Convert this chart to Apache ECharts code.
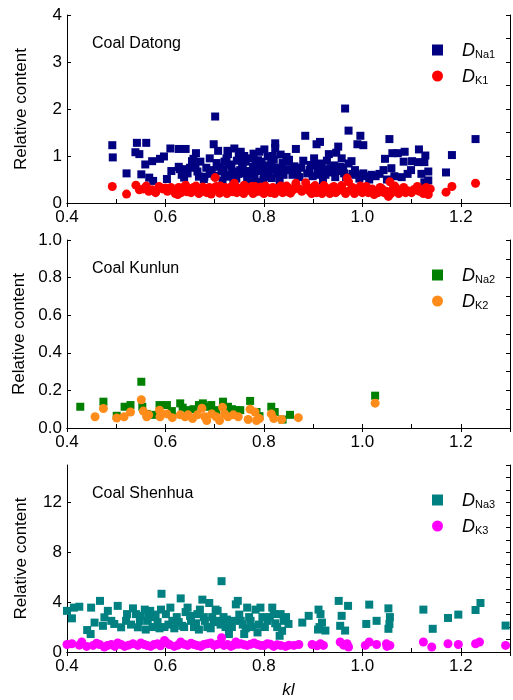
<!DOCTYPE html>
<html>
<head>
<meta charset="utf-8">
<script src="https://cdn.jsdelivr.net/npm/echarts@6/dist/echarts.min.js"></script>
<style>
  html, body { margin: 0; padding: 0; background: #fff; }
  #chart { width: 513px; height: 700px; }
</style>
</head>
<body>
<div id="chart"></div>
<script>
// panel 1: Coal Datong  [kl, relative content]
const na1 = [
  [0.492,1.23],[0.493,0.97],[0.521,0.63],[0.542,1.28],[0.561,1.28],[0.539,1.08],[0.547,1.04],[0.559,0.82],
  [0.551,0.61],[0.567,0.54],[0.575,0.47],[0.573,0.89],[0.589,0.94],[0.597,0.99],[0.603,0.51],[0.610,1.16],
  [0.627,1.15],[0.641,1.15],[0.701,1.84],[0.698,1.25],[0.627,0.77],[0.629,0.72],[0.639,0.72],[0.638,0.54],
  [0.645,0.63],[0.654,0.89],[0.657,0.94],[0.662,1.06],[0.671,0.88],[0.661,0.77],[0.665,0.67],[0.668,0.56],
  [0.679,0.56],[0.678,0.51],[0.694,0.70],[0.707,1.11],[0.709,0.77],[0.714,0.67],[0.721,0.60],[0.726,1.11],
  [0.727,1.04],[0.740,1.16],[0.734,0.77],[0.737,0.67],[0.731,0.56],[0.753,1.09],[0.749,1.03],[0.756,0.84],
  [0.752,0.70],[0.761,0.63],[0.773,0.95],[0.778,0.77],[0.788,0.91],[0.791,1.09],[0.801,1.14],[0.796,0.70],
  [0.808,0.99],[0.815,0.84],[0.781,0.60],[0.808,0.56],[0.716,0.48],[0.744,0.52],[0.766,0.50],[0.786,0.45],
  [0.800,0.62],[0.770,0.68],[0.745,0.90],[0.720,0.88],[0.690,0.62],[0.760,1.00],[0.783,0.82],[0.795,0.88],
  [0.812,0.72],[0.823,1.27],[0.823,1.17],[0.818,1.00],[0.834,1.03],[0.838,0.85],[0.848,0.88],[0.851,0.92],
  [0.865,1.15],[0.844,0.70],[0.858,0.60],[0.828,0.62],[0.816,0.53],[0.872,0.55],[0.830,0.75],[0.862,0.78],
  [0.884,1.43],[0.907,1.25],[0.914,1.30],[0.902,0.95],[0.895,0.81],[0.888,0.63],[0.899,0.57],[0.910,0.70],
  [0.917,0.84],[0.925,0.60],[0.932,1.04],[0.936,0.74],[0.947,1.07],[0.951,1.20],[0.955,0.77],[0.963,0.63],
  [0.965,2.01],[0.972,1.54],[0.996,1.43],[0.990,1.25],[1.002,1.23],[0.972,0.84],[0.978,0.89],[0.985,0.70],
  [0.987,0.60],[1.002,0.63],[1.008,0.57],[1.019,0.60],[1.027,0.57],[1.046,0.94],[1.043,0.70],[1.055,1.36],
  [1.059,0.74],[1.061,1.06],[1.072,1.06],[1.086,1.09],[1.084,0.88],[1.065,0.57],[1.099,0.70],[1.101,0.89],
  [1.115,1.14],[1.113,0.87],[1.126,0.87],[1.128,1.01],[1.134,0.67],[1.134,0.48],[1.126,0.44],[1.170,0.65],
  [1.182,1.02],[1.230,1.36],[0.880,0.90],[0.920,0.48],[0.945,0.55],[0.958,0.95],[0.940,0.65],
  [0.683,0.75],[0.690,0.95],[0.700,0.58],[0.704,0.85],[0.718,0.72],[0.724,0.95],[0.730,0.82],[0.738,0.47],
  [0.748,0.62],[0.757,0.74],[0.763,0.88],[0.769,0.58],[0.775,0.45],[0.779,1.05],[0.784,0.68],[0.792,0.78],
  [0.799,0.50],[0.805,0.80],[0.810,0.65],[0.820,0.92],[0.826,0.70],[0.832,0.48],[0.840,0.60],[0.846,0.98],
  [0.855,0.72],[0.868,0.66],[0.876,0.75],[0.893,0.70],[0.905,0.80],[0.912,0.60],[0.922,0.72],[0.928,0.90],
  [0.943,0.80],[0.950,0.68],[0.961,0.75],[0.967,0.55],[0.980,0.62],[0.994,0.52],[1.014,0.50],[1.035,0.62],
  [1.050,0.50],[1.080,0.55],[1.092,0.62],[1.120,0.62],[0.650,0.75],[0.633,0.60],[0.612,0.68]
];
const k1 = [
  [0.492,0.35],[0.521,0.19],[0.540,0.38],[0.547,0.28],[0.561,0.36],[0.566,0.25],[0.573,0.28],[0.587,0.35],
  [0.594,0.30],[0.604,0.25],[0.611,0.33],[0.627,0.33],[0.632,0.22],[0.641,0.38],[0.647,0.30],[0.657,0.33],
  [0.665,0.28],[0.673,0.31],[0.679,0.25],[0.689,0.33],[0.701,0.54],[0.707,0.30],[0.714,0.25],[0.721,0.33],
  [0.728,0.26],[0.740,0.42],[0.749,0.31],[0.756,0.25],[0.765,0.33],[0.773,0.28],[0.782,0.35],[0.791,0.25],
  [0.798,0.31],[0.808,0.26],[0.818,0.33],[0.620,0.20],[0.636,0.27],[0.652,0.22],[0.668,0.20],[0.684,0.22],
  [0.696,0.28],[0.712,0.36],[0.733,0.34],[0.745,0.22],[0.760,0.38],[0.778,0.20],[0.787,0.30],[0.803,0.36],
  [0.813,0.22],[0.826,0.28],[0.834,0.36],[0.842,0.24],[0.850,0.32],[0.858,0.27],[0.865,0.42],[0.872,0.30],
  [0.885,0.43],[0.892,0.26],[0.900,0.33],[0.907,0.22],[0.915,0.30],[0.922,0.37],[0.930,0.25],[0.938,0.32],
  [0.946,0.22],[0.955,0.30],[0.962,0.26],[0.969,0.53],[0.972,0.45],[0.980,0.33],[0.988,0.25],[0.996,0.36],
  [1.004,0.28],[1.012,0.22],[1.020,0.30],[1.028,0.25],[1.036,0.33],[1.044,0.22],[1.053,0.14],[1.056,0.45],
  [1.062,0.30],[1.070,0.25],[1.078,0.28],[1.084,0.33],[1.092,0.26],[1.100,0.22],[1.108,0.30],[1.116,0.25],
  [1.124,0.20],[1.130,0.33],[1.134,0.18],[1.170,0.23],[1.182,0.35],[1.230,0.42],
  [0.600,0.32],[0.615,0.27],[0.625,0.18],[0.638,0.34],[0.644,0.24],[0.655,0.28],[0.662,0.36],[0.670,0.24],
  [0.676,0.34],[0.687,0.27],[0.693,0.19],[0.703,0.35],[0.710,0.21],[0.718,0.29],[0.725,0.20],[0.731,0.30],
  [0.737,0.24],[0.742,0.35],[0.752,0.28],[0.759,0.20],[0.768,0.27],[0.775,0.35],[0.783,0.24],[0.794,0.34],
  [0.800,0.20],[0.806,0.31],[0.816,0.26],[0.822,0.20],[0.830,0.32],[0.838,0.22],[0.846,0.36],[0.854,0.21],
  [0.862,0.30],[0.877,0.25],[0.888,0.33],[0.897,0.20],[0.904,0.37],[0.911,0.27],[0.918,0.20],[0.926,0.32],
  [0.934,0.20],[0.942,0.35],[0.950,0.26],[0.958,0.37],[0.966,0.20],[0.976,0.28],[0.984,0.20],[0.992,0.30],
  [1.000,0.22],[1.008,0.35],[1.016,0.27],[1.024,0.18],[1.032,0.22],[1.040,0.30],[1.048,0.25],[1.058,0.20],
  [1.066,0.36],[1.074,0.20],[1.088,0.22],[1.104,0.28],[1.112,0.35],[1.120,0.28],[1.128,0.24],[1.138,0.30],
  [0.580,0.22],[0.555,0.30]
];

// panel 2: Coal Kunlun
const na2 = [
  [0.427,0.113],[0.474,0.140],[0.501,0.065],[0.517,0.113],[0.529,0.122],[0.553,0.113],[0.551,0.246],[0.562,0.075],
  [0.578,0.070],[0.588,0.122],[0.603,0.122],[0.613,0.090],[0.630,0.131],[0.635,0.108],[0.646,0.095],[0.657,0.100],
  [0.668,0.122],[0.676,0.131],[0.686,0.113],[0.693,0.122],[0.703,0.095],[0.717,0.140],[0.727,0.113],[0.735,0.100],
  [0.744,0.095],[0.752,0.095],[0.772,0.144],[0.785,0.085],[0.791,0.063],[0.815,0.113],[0.822,0.085],[0.838,0.045],
  [0.853,0.070],[1.026,0.172]
];
const k2 = [
  [0.457,0.060],[0.474,0.104],[0.501,0.053],[0.516,0.060],[0.529,0.085],[0.551,0.150],[0.555,0.090],[0.562,0.060],
  [0.566,0.070],[0.588,0.095],[0.589,0.060],[0.603,0.075],[0.614,0.055],[0.630,0.070],[0.640,0.060],[0.646,0.070],
  [0.655,0.050],[0.665,0.070],[0.674,0.105],[0.680,0.060],[0.684,0.040],[0.694,0.075],[0.703,0.060],[0.710,0.040],
  [0.716,0.110],[0.720,0.075],[0.727,0.060],[0.738,0.070],[0.748,0.060],[0.768,0.045],[0.772,0.100],[0.782,0.085],
  [0.785,0.040],[0.791,0.050],[0.815,0.075],[0.820,0.050],[0.836,0.045],[0.870,0.055],[1.026,0.132]
];

// panel 3: Coal Shenhua
const na3 = [
  [0.400,3.30],[0.410,2.70],[0.414,3.56],[0.425,3.63],[0.441,1.76],[0.448,1.44],[0.449,3.56],[0.456,2.36],
  [0.467,4.10],[0.473,2.10],[0.476,2.78],[0.483,3.30],[0.490,2.50],[0.496,2.25],[0.503,3.70],[0.510,1.98],
  [0.520,2.50],[0.522,3.04],[0.534,3.50],[0.540,3.04],[0.544,1.98],[0.550,2.90],[0.558,3.40],[0.564,2.50],
  [0.569,3.30],[0.574,2.00],[0.577,2.80],[0.584,2.40],[0.591,3.40],[0.592,4.67],[0.598,2.00],[0.601,3.04],
  [0.610,3.56],[0.614,2.50],[0.623,2.80],[0.631,4.30],[0.634,2.10],[0.641,3.20],[0.645,3.56],[0.652,2.50],
  [0.658,2.00],[0.665,3.04],[0.670,3.40],[0.675,4.20],[0.680,2.50],[0.685,2.00],[0.689,3.93],[0.695,2.80],
  [0.702,3.40],[0.706,3.30],[0.709,2.50],[0.714,5.68],[0.718,2.80],[0.722,2.00],[0.729,1.44],[0.739,2.50],
  [0.743,3.82],[0.747,4.10],[0.753,2.50],[0.760,1.44],[0.766,3.56],[0.770,2.80],[0.776,2.00],[0.783,3.40],
  [0.787,1.57],[0.793,3.56],[0.797,2.80],[0.807,2.50],[0.817,3.56],[0.820,3.04],[0.827,2.00],[0.832,1.30],
  [0.834,3.04],[0.840,2.50],[0.850,2.25],[0.878,2.36],[0.891,2.90],[0.911,3.40],[0.915,3.04],[0.913,2.00],
  [0.918,2.36],[0.925,1.72],[0.952,4.10],[0.958,2.90],[0.955,2.10],[0.965,1.72],[0.971,3.70],[1.008,2.25],
  [1.014,3.80],[1.029,2.50],[1.053,3.50],[1.056,2.80],[1.053,1.86],[1.055,2.25],[1.124,3.40],[1.143,1.86],
  [1.174,2.73],[1.195,3.00],[1.230,3.37],[1.240,3.93],[1.291,2.12],
  [0.530,2.20],[0.548,2.50],[0.560,1.80],[0.566,2.90],[0.580,3.00],[0.588,1.90],[0.606,2.20],[0.618,1.90],
  [0.627,2.40],[0.638,2.00],[0.650,2.90],[0.662,2.30],[0.668,1.80],[0.678,2.80],[0.692,1.90],[0.698,2.40],
  [0.712,2.20],[0.725,2.60],[0.735,2.00],[0.750,3.00],[0.757,2.20],[0.763,1.90],[0.773,2.50],[0.790,2.20],
  [0.802,2.00],[0.812,2.80],[0.823,2.30],[0.837,1.70],[0.845,2.80],[0.910,1.80]
];
const k3 = [
  [0.400,0.60],[0.410,0.66],[0.430,0.80],[0.440,0.45],[0.453,0.53],[0.466,0.60],[0.476,0.40],[0.490,0.60],
  [0.503,0.72],[0.517,0.45],[0.534,0.66],[0.544,0.53],[0.557,0.60],[0.570,0.45],[0.584,0.66],[0.598,0.93],
  [0.608,0.60],[0.618,0.45],[0.631,0.80],[0.645,0.53],[0.658,0.60],[0.672,0.45],[0.685,0.66],[0.699,0.53],
  [0.714,1.14],[0.719,0.53],[0.733,0.45],[0.743,0.80],[0.753,0.66],[0.766,0.53],[0.780,0.72],[0.793,0.53],
  [0.807,0.66],[0.820,0.45],[0.834,0.53],[0.844,0.45],[0.861,0.53],[0.871,0.60],[0.898,0.60],[0.915,0.66],
  [0.921,0.53],[0.955,0.80],[0.969,0.66],[0.972,0.40],[1.006,0.53],[1.014,0.80],[1.029,0.60],[1.049,0.66],
  [1.056,0.53],[1.124,0.80],[1.141,0.40],[1.174,0.66],[1.195,0.60],[1.230,0.66],[1.238,0.80],[1.291,0.53],
  [0.425,0.55],[0.460,0.70],[0.482,0.52],[0.497,0.45],[0.510,0.60],[0.525,0.55],[0.550,0.72],[0.563,0.52],
  [0.577,0.60],[0.590,0.50],[0.603,0.72],[0.625,0.55],[0.638,0.62],[0.652,0.70],[0.665,0.52],[0.678,0.60],
  [0.692,0.72],[0.706,0.62],[0.726,0.60],[0.738,0.55],[0.748,0.62],[0.760,0.58],[0.773,0.62],[0.787,0.60],
  [0.800,0.52],[0.813,0.62],[0.827,0.58],[0.851,0.55],[0.908,0.50],[0.962,0.55],[1.050,0.45]
];

const panelNames = ['Coal Datong', 'Coal Kunlun', 'Coal Shenhua'];
const squareNames = ['Na1', 'Na2', 'Na3'];
const circleNames = ['K1', 'K2', 'K3'];
const squareColors = ['#000080', '#008000', '#008080'];
const circleColors = ['#ff0000', '#ff8c1a', '#ff00ff'];
const yMax = [4, 1.0, 15];
const yStep = [1, 0.2, 4];
const yMinorStep = [0.5, 0.1, 1];
const yDigits = [0, 1, 0];

const tops = [15, 240, 465];
const font = 'Arial, "Liberation Sans", sans-serif';

const grids = [];
const xAxes = [];
const yAxes = [];
const legends = [];
const series = [];
const texts = [];
const sqData = [na1, na2, na3];
const ciData = [k1, k2, k3];

for (let i = 0; i < 3; i++) {
  grids.push({ left: 67, right: 1, top: tops[i], height: 188 });
  // bottom axis, ticks every 0.1, labels every 0.2
  xAxes.push({
    gridIndex: i, type: 'value', position: 'bottom', min: 0.4, max: 1.3, interval: 0.1,
    axisLine: { show: true, lineStyle: { color: '#000', width: 1 } },
    axisTick: { show: true, inside: true, length: 4, lineStyle: { color: '#000' } },
    splitLine: { show: false },
    axisLabel: {
      color: '#000', fontSize: 17, fontFamily: font, margin: 6,
      formatter: v => (Math.round(v * 10) % 2 === 0 && v < 1.25) ? v.toFixed(1) : ''
    },
    name: i === 2 ? 'kl' : '', nameLocation: 'middle', nameGap: 30,
    nameTextStyle: { color: '#000', fontSize: 17, fontStyle: 'italic', fontFamily: font }
  });
  // top mirror axis
  xAxes.push({
    gridIndex: i, type: 'value', position: 'top', min: 0.4, max: 1.3, interval: 0.2,
    axisLine: { show: true, lineStyle: { color: '#000', width: 1 } },
    axisTick: { show: true, inside: true, length: 4, lineStyle: { color: '#000' } },
    splitLine: { show: false }, axisLabel: { show: false }
  });
  yAxes.push({
    gridIndex: i, type: 'value', position: 'left', min: 0, max: yMax[i], interval: yStep[i],
    axisLine: { show: true, lineStyle: { color: '#000', width: 1 } },
    axisTick: { show: true, inside: true, length: 4, lineStyle: { color: '#000' } },
    splitLine: { show: false },
    axisLabel: {
      color: '#000', fontSize: 17, fontFamily: font, margin: 5, showMaxLabel: i !== 2,
      formatter: v => v.toFixed(yDigits[i])
    },
    name: 'Relative content', nameLocation: 'middle', nameGap: 37,
    nameTextStyle: { color: '#000', fontSize: 17, fontFamily: font }
  });
  // right mirror axis
  yAxes.push({
    gridIndex: i, type: 'value', position: 'right', min: 0, max: yMax[i], interval: yMinorStep[i],
    axisLine: { show: true, lineStyle: { color: '#000', width: 1 } },
    axisTick: { show: true, inside: true, length: 4, lineStyle: { color: '#000' } },
    splitLine: { show: false }, axisLabel: { show: false }
  });

  series.push({
    name: 'sq' + i, type: 'scatter', xAxisIndex: 2 * i, yAxisIndex: 2 * i,
    symbol: 'rect', symbolSize: 8, data: sqData[i],
    itemStyle: { color: squareColors[i], opacity: 1 }
  });
  series.push({
    name: 'ci' + i, type: 'scatter', xAxisIndex: 2 * i, yAxisIndex: 2 * i,
    symbol: 'circle', symbolSize: 9, data: ciData[i],
    itemStyle: { color: circleColors[i], opacity: 1 }
  });

  const subs = { ['sq' + i]: squareNames[i], ['ci' + i]: circleNames[i] };
  legends.push({
    data: ['sq' + i, 'ci' + i],
    orient: 'vertical', left: 427, top: tops[i] + 22,
    itemWidth: 11, itemHeight: 11, itemGap: 8,
    formatter: n => '{d|D}{s|' + subs[n] + '}',
    textStyle: {
      rich: {
        d: { fontSize: 18, fontStyle: 'italic', fontFamily: font, color: '#000', lineHeight: 20, verticalAlign: 'bottom', padding: [0, 0, 0, 14] },
        s: { fontSize: 11, fontFamily: font, color: '#000', lineHeight: 1, verticalAlign: 'bottom' }
      }
    }
  });

  texts.push({
    type: 'text', left: 92, top: tops[i] + 21,
    style: { text: panelNames[i], fontSize: 16, fontFamily: font, fill: '#000' }
  });
}

const chart = echarts.init(document.getElementById('chart'));
chart.setOption({
  animation: false,
  backgroundColor: '#fff',
  grid: grids,
  xAxis: xAxes,
  yAxis: yAxes,
  legend: legends,
  series: series,
  graphic: texts
});
</script>
</body>
</html>
